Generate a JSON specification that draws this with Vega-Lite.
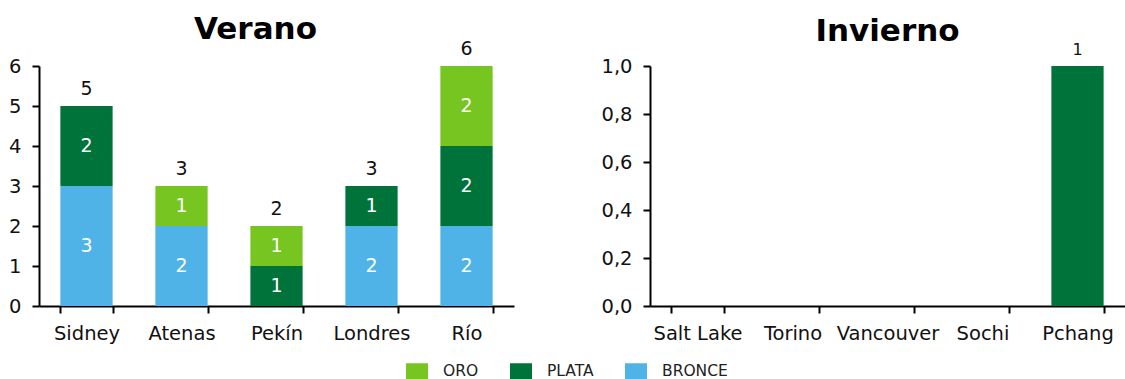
{
  "$schema": "https://vega.github.io/schema/vega-lite/v6.json",
  "padding": {"left": 8, "top": 14, "right": 0, "bottom": 0},
  "background": "white",
  "config": {
    "font": "DejaVu Sans",
    "view": {"stroke": null},
    "axis": {
      "domainColor": "#000000",
      "domainWidth": 2,
      "tickColor": "#000000",
      "tickWidth": 2,
      "tickSize": 7,
      "labelColor": "#111111",
      "labelFontSize": 19.5,
      "labelPadding": 11,
      "labelOverlap": false,
      "grid": false,
      "title": null
    },
    "title": {
      "fontSize": 31,
      "fontWeight": "bold",
      "color": "#000000",
      "anchor": "middle",
      "frame": "group",
      "baseline": "alphabetic",
      "offset": -6
    },
    "legend": {
      "orient": "none",
      "legendX": 367,
      "legendY": 294,
      "direction": "horizontal",
      "title": null,
      "symbolType": "M-1,-0.727H1V0.727H-1Z",
      "symbolSize": 484,
      "symbolStrokeWidth": 0,
      "symbolOpacity": 1,
      "labelFontSize": 15.5,
      "labelColor": "#222222",
      "labelOffset": 15,
      "columnPadding": 31
    }
  },
  "datasets": {
    "verano": [
      {"ciudad": "Sidney", "medalla": "BRONCE", "cantidad": 3},
      {"ciudad": "Sidney", "medalla": "PLATA", "cantidad": 2},
      {"ciudad": "Atenas", "medalla": "BRONCE", "cantidad": 2},
      {"ciudad": "Atenas", "medalla": "ORO", "cantidad": 1},
      {"ciudad": "Pekín", "medalla": "PLATA", "cantidad": 1},
      {"ciudad": "Pekín", "medalla": "ORO", "cantidad": 1},
      {"ciudad": "Londres", "medalla": "BRONCE", "cantidad": 2},
      {"ciudad": "Londres", "medalla": "PLATA", "cantidad": 1},
      {"ciudad": "Río", "medalla": "BRONCE", "cantidad": 2},
      {"ciudad": "Río", "medalla": "PLATA", "cantidad": 2},
      {"ciudad": "Río", "medalla": "ORO", "cantidad": 2}
    ],
    "invierno": [
      {"ciudad": "Pchang", "medalla": "PLATA", "cantidad": 1}
    ]
  },
  "hconcat": [
    {
      "width": 475,
      "height": 240,
      "title": {"text": "Verano", "dx": -21},
      "data": {"name": "verano"},
      "transform": [
        {"calculate": "indexof(['BRONCE','PLATA','ORO'], datum.medalla)", "as": "orden"},
        {"stack": "cantidad", "groupby": ["ciudad"], "sort": [{"field": "orden"}], "as": ["y0", "y1"]},
        {"calculate": "(datum.y0 + datum.y1) / 2", "as": "centro"}
      ],
      "encoding": {
        "x": {
          "field": "ciudad",
          "type": "nominal",
          "sort": ["Sidney", "Atenas", "Pekín", "Londres", "Río"],
          "scale": {"domain": ["Sidney", "Atenas", "Pekín", "Londres", "Río"], "paddingInner": 0.45, "paddingOuter": 0.225},
          "axis": {"labelAngle": 0, "tickBand": "extent"}
        },
        "y": {
          "field": "y0",
          "type": "quantitative",
          "scale": {"domain": [0, 6], "nice": false},
          "axis": {"values": [0, 1, 2, 3, 4, 5, 6]}
        }
      },
      "layer": [
        {
          "mark": {"type": "bar"},
          "encoding": {
            "y2": {"field": "y1"},
            "color": {
              "field": "medalla",
              "type": "nominal",
              "scale": {"domain": ["ORO", "PLATA", "BRONCE"], "range": ["#76C520", "#00733A", "#4FB3E8"]}
            }
          }
        },
        {
          "mark": {"type": "text", "color": "white", "fontSize": 19, "baseline": "middle"},
          "encoding": {
            "y": {"field": "centro", "type": "quantitative"},
            "text": {"field": "cantidad", "type": "quantitative"}
          }
        },
        {
          "transform": [{"aggregate": [{"op": "sum", "field": "cantidad", "as": "total"}], "groupby": ["ciudad"]}],
          "mark": {"type": "text", "color": "#111111", "fontSize": 19, "baseline": "alphabetic", "dy": -11},
          "encoding": {
            "y": {"field": "total", "type": "quantitative"},
            "text": {"field": "total", "type": "quantitative"}
          }
        }
      ]
    },
    {
      "width": 475,
      "height": 240,
      "title": {"text": "Invierno"},
      "data": {"name": "invierno"},
      "transform": [
        {"calculate": "indexof(['BRONCE','PLATA','ORO'], datum.medalla)", "as": "orden"},
        {"stack": "cantidad", "groupby": ["ciudad"], "sort": [{"field": "orden"}], "as": ["y0", "y1"]}
      ],
      "encoding": {
        "x": {
          "field": "ciudad",
          "type": "nominal",
          "scale": {"domain": ["Salt Lake", "Torino", "Vancouver", "Sochi", "Pchang"], "paddingInner": 0.45, "paddingOuter": 0.225},
          "axis": {"labelAngle": 0, "tickBand": "extent"}
        },
        "y": {
          "field": "y0",
          "type": "quantitative",
          "scale": {"domain": [0, 1], "nice": false},
          "axis": {"values": [0, 0.2, 0.4, 0.6, 0.8, 1], "labelExpr": "replace(format(datum.value, '.1f'), '.', ',')"}
        }
      },
      "layer": [
        {
          "mark": {"type": "bar"},
          "encoding": {
            "y2": {"field": "y1"},
            "color": {"field": "medalla", "type": "nominal"}
          }
        },
        {
          "transform": [{"aggregate": [{"op": "sum", "field": "cantidad", "as": "total"}], "groupby": ["ciudad"]}],
          "mark": {"type": "text", "color": "#111111", "fontSize": 16, "baseline": "alphabetic", "dy": -11},
          "encoding": {
            "y": {"field": "total", "type": "quantitative"},
            "text": {"field": "total", "type": "quantitative"}
          }
        }
      ]
    }
  ],
  "spacing": 86,
  "resolve": {"scale": {"y": "independent", "x": "independent"}}
}
